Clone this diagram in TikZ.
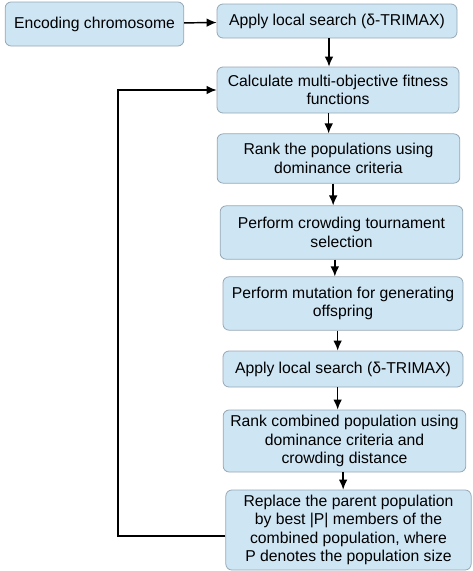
\documentclass[tikz,border=0pt]{standalone}
\usepackage{fontspec}
\setmainfont{Liberation Sans}
\usetikzlibrary{arrows.meta}

\definecolor{boxfill}{RGB}{206,229,244}
\definecolor{boxline}{RGB}{150,168,182}

\begin{document}
\begin{tikzpicture}[
    x=0.75pt, y=-0.75pt,
    font=\fontsize{11.8}{13.7}\selectfont,
    stepbox/.style={rectangle,rounded corners=4.5pt,draw=boxline,fill=boxfill,
        line width=0.6pt,align=center,inner sep=2pt},
    line/.style={line width=1.1pt},
    arr/.style={line width=1.1pt,-{Latex[length=7.5pt,width=6.5pt]}}
]
\useasboundingbox (0,0) rectangle (472,571);

% Start
\node[stepbox,minimum width=134pt,minimum height=33pt] (enc) at (94.5,24) {Encoding chromosome};
\node[stepbox,minimum width=180pt,minimum height=25.5pt] (ls1) at (337,21) {Apply local search (δ-TRIMAX)};

% Main loop
\node[stepbox,minimum width=181.5pt,minimum height=34.5pt] (fit) at (338,90) {Calculate multi-objective fitness\\functions};
\node[stepbox,minimum width=182pt,minimum height=37pt] (rank) at (338.5,158.5) {Rank the populations using\\dominance criteria};
\node[stepbox,minimum width=182pt,minimum height=40pt] (sel) at (341.5,232.5) {Perform crowding tournament\\selection};
\node[stepbox,minimum width=180pt,minimum height=40pt] (mut) at (343,303.5) {Perform mutation for generating\\offspring};
\node[stepbox,minimum width=180pt,minimum height=27pt] (ls2) at (343,369) {Apply local search (δ-TRIMAX)};
\node[stepbox,minimum width=182pt,minimum height=46.5pt] (rcomb) at (344.5,441) {Rank combined population using\\dominance criteria and\\crowding distance};
\node[stepbox,minimum width=184pt,minimum height=60pt] (repl) at (348.5,530) {Replace the parent population\\by best |P| members of the\\combined population, where\\P denotes the population size};

% Arrows
\draw[arr] (enc) -- (ls1);
\draw[arr] ([xshift=-6pt]ls1.south) -- ([xshift=-6pt]ls1.south |- fit.north);
\draw[arr] ([xshift=-7pt]fit.south) -- ([xshift=-7pt]fit.south |- rank.north);
\draw[arr] ([xshift=-4pt]rank.south) -- ([xshift=-4pt]rank.south |- sel.north);
\draw[arr] ([xshift=-5pt]sel.south) -- ([xshift=-5pt]sel.south |- mut.north);
\draw[arr] ([xshift=-4pt]mut.south) -- ([xshift=-4pt]mut.south |- ls2.north);
\draw[arr] ([xshift=-4pt]ls2.south) -- ([xshift=-4pt]ls2.south |- rcomb.north);
\draw[arr] ([xshift=-1pt]rcomb.south) -- ([xshift=-1pt]rcomb.south |- repl.north);

% Feedback
\draw[arr] ([yshift=-4.5pt]repl.west) -| (118,90) -- (fit.west);

\end{tikzpicture}
\end{document}
